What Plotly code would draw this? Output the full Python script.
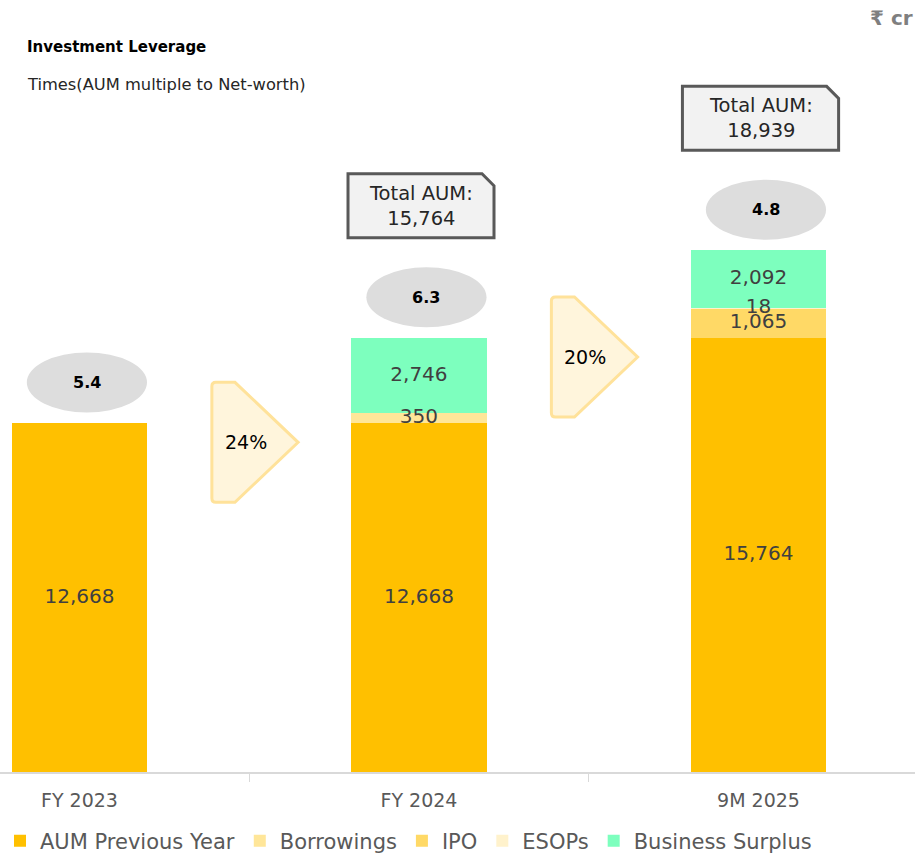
import plotly.graph_objects as go

# ---- data ----
categories = ["FY 2023", "FY 2024", "9M 2025"]
aum_prev = [12668, 12668, 15764]
borrowings = [0, 350, 0]
ipo = [0, 0, 1065]
esops = [0, 0, 18]
business_surplus = [0, 2746, 2092]
total_aum = [12668, 15764, 18939]
leverage = ["5.4", "6.3", "4.8"]
growth = ["24%", "20%"]

series = [
    ("AUM Previous Year", aum_prev, "#FFC000"),
    ("Borrowings", borrowings, "#FFE699"),
    ("IPO", ipo, "#FFD966"),
    ("ESOPs", esops, "#FFF2CC"),
    ("Business Surplus", business_surplus, "#7DFFBE"),
]

FONT = "DejaVu Sans"
fig = go.Figure()
base = [0] * len(categories)
lab_x, lab_y, lab_t = [], [], []
for name, vals, col in series:
    fig.add_trace(go.Bar(
        x=categories, y=vals, name=name, marker=dict(color=col, line=dict(width=0)),
        width=0.40, hoverinfo="skip",
    ))
    for j, v in enumerate(vals):
        if v:
            lab_x.append(categories[j])
            lab_y.append(base[j] + v / 2)
            lab_t.append(f"{v:,}")
        base[j] += v

# data labels drawn above all bar segments
fig.add_trace(go.Scatter(
    x=lab_x, y=lab_y, text=lab_t, mode="text", showlegend=False, hoverinfo="skip",
    textfont=dict(family=FONT, size=20, color="#404040"), cliponaxis=False,
))

shapes = []
annotations = []
ypx = 36.3   # value units per pixel
xpx = 1 / 339.5

# leverage ellipses
for i, (tot, lev) in enumerate(zip(total_aum, leverage)):
    y0 = tot + 380
    y1 = y0 + 60 * ypx
    cx = i + 0.022
    shapes.append(dict(type="circle", xref="x", yref="y", x0=cx - 0.177, x1=cx + 0.177,
                       y0=y0, y1=y1, fillcolor="#DDDDDD", line=dict(width=0), layer="above"))
    annotations.append(dict(x=cx, y=(y0 + y1) / 2, xref="x", yref="y", text=f"<b>{lev}</b>",
                            showarrow=False, font=dict(family=FONT, size=16, color="#000000")))

# total AUM callouts (FY 2024, 9M 2025)
box_w = [0.43, 0.46]
for k, i in enumerate([1, 2]):
    tot = total_aum[i]
    ell_top = tot + 380 + 60 * ypx
    b0 = ell_top + 1070
    b1 = b0 + 64 * ypx
    cx = i + 0.006
    xl, xr = cx - box_w[k] / 2, cx + box_w[k] / 2
    cut_x, cut_y = 12 * xpx, 12 * ypx
    path = (f"M{xl},{b0} L{xr},{b0} L{xr},{b1 - cut_y} L{xr - cut_x},{b1} "
            f"L{xl},{b1} Z")
    shapes.append(dict(type="path", xref="x", yref="y", path=path, fillcolor="#F2F2F2",
                       line=dict(color="#595959", width=3), layer="above"))
    annotations.append(dict(x=cx, y=(b0 + b1) / 2, xref="x", yref="y",
                            text=f"Total AUM:<br>{tot:,}", showarrow=False,
                            font=dict(family=FONT, size=19.5, color="#262626")))

# growth chevrons
for i, g in enumerate(growth):
    cy = total_aum[i] - 700
    h = 60 * ypx
    xl = i + 0.390
    xn = i + 0.458
    xt = i + 0.644
    r = 4 * xpx
    ry = 4 * ypx
    path = (f"M{xl + r},{cy + h} L{xn},{cy + h} L{xt},{cy} L{xn},{cy - h} "
            f"L{xl + r},{cy - h} Q{xl},{cy - h} {xl},{cy - h + ry} "
            f"L{xl},{cy + h - ry} Q{xl},{cy + h} {xl + r},{cy + h} Z")
    shapes.append(dict(type="path", xref="x", yref="y", path=path, fillcolor="#FFF5DC",
                       line=dict(color="#FFE29A", width=3), layer="above"))
    annotations.append(dict(x=i + 0.49, y=cy, xref="x", yref="y", text=g, showarrow=False,
                            font=dict(family=FONT, size=19, color="#000000")))

# titles
annotations += [
    dict(x=25 / 915, y=(772 - 47) / 772, xref="paper", yref="paper", xanchor="left",
         yanchor="middle", text="<b>Investment Leverage</b>", showarrow=False,
         font=dict(family=FONT, size=15, color="#000000")),
    dict(x=25 / 915, y=(772 - 84) / 772, xref="paper", yref="paper", xanchor="left",
         yanchor="middle", text="Times(AUM multiple to Net-worth)", showarrow=False,
         font=dict(family=FONT, size=16.3, color="#262626")),
    dict(x=1.0, y=(772 - 18) / 772, xref="paper", yref="paper", xanchor="right",
         yanchor="middle", text="<b>₹ cr</b>", showarrow=False,
         font=dict(family=FONT, size=20, color="#7F7F7F")),
]

fig.update_layout(
    width=915, height=856, barmode="stack", bargap=0,
    margin=dict(l=0, r=0, t=0, b=84),
    paper_bgcolor="white", plot_bgcolor="white",
    shapes=shapes, annotations=annotations, showlegend=True,
    legend=dict(orientation="h", xref="container", yref="container",
                x=0.0, xanchor="left", y=(856 - 841) / 856, yanchor="middle",
                font=dict(family=FONT, size=21, color="#595959"), itemwidth=30,
                traceorder="normal", bgcolor="rgba(0,0,0,0)"),
    xaxis=dict(range=[-0.234, 2.461], showline=True, linecolor="#D9D9D9", linewidth=2,
               ticks="outside", tickson="boundaries", ticklen=8, tickcolor="#D9D9D9",
               tickwidth=1, ticklabelstandoff=10,
               tickfont=dict(family=FONT, size=19, color="#595959"),
               showgrid=False, zeroline=False, fixedrange=True),
    yaxis=dict(range=[0, 772 * ypx], visible=False, showgrid=False, zeroline=False),
)

fig.write_html("out.html")
